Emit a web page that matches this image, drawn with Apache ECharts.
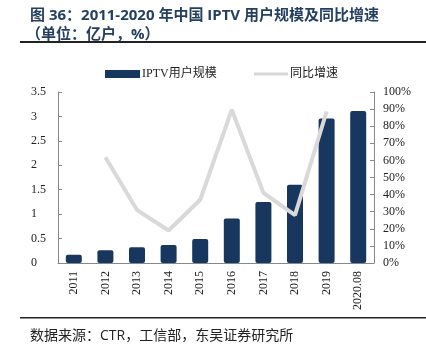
<!DOCTYPE html>
<html>
<head>
<meta charset="utf-8">
<script src="https://cdn.jsdelivr.net/npm/echarts@6/dist/echarts.min.js"></script>
<style>html,body{margin:0;padding:0;background:#fff;}#c{width:426px;height:356px;}</style>
</head>
<body>
<div id="c"></div>
<script>
var categories = ['2011','2012','2013','2014','2015','2016','2017','2018','2019','2020.08'];
var users = [0.17,0.26,0.32,0.37,0.49,0.91,1.25,1.60,2.96,3.11];
var growth = [null,61.8,31,19,37,89.6,41,28,88.6,null];
var leftTicks = {min:0, max:3.5, interval:0.5};
var rightTicks = {min:0, max:100, interval:10};

var serif = '"Liberation Serif","Times New Roman","Noto Sans CJK SC",serif';
var sans = '"Open Sans","Noto Sans CJK SC",sans-serif';
var chart = echarts.init(document.getElementById('c'), null, {renderer:'canvas'});
chart.setOption({
  animation:false,
  backgroundColor:'#fff',
  title:[
    {text:'图 36：2011-2020 年中国 IPTV 用户规模及同比增速', left:25, top:3,
     textStyle:{fontSize:15, fontWeight:'bold', color:'#243F60', fontFamily:sans}},
    {text:'（单位：亿户，%）', left:21, top:22,
     textStyle:{fontSize:15, fontWeight:'bold', color:'#243F60', fontFamily:sans}},
    {text:'数据来源：CTR，工信部，东吴证券研究所', left:25, top:324,
     textStyle:{fontSize:14, fontWeight:'normal', color:'#222', fontFamily:sans}}
  ],
  graphic:[
    {type:'rect', shape:{x:20,y:41,width:406,height:2}, style:{fill:'#222'}},
    {type:'rect', shape:{x:20,y:317,width:406,height:1.5}, style:{fill:'#222'}}
  ],
  legend:[
    {top:63, left:100, itemWidth:35, itemHeight:8,
     textStyle:{fontFamily:serif, fontSize:12, color:'#222', padding:[0,0,0,-3]},
     data:[{name:'IPTV用户规模', icon:'rect'}]},
    {top:63, left:249, itemWidth:34, itemHeight:3,
     textStyle:{fontFamily:serif, fontSize:12, color:'#222', padding:[0,0,0,-3]},
     data:[{name:'同比增速', icon:'rect'}]}
  ],
  grid:{left:58, right:52, top:92, bottom:93},
  xAxis:{
    type:'category', data:categories,
    axisLine:{lineStyle:{color:'#888'}},
    axisTick:{inside:true, length:4, lineStyle:{color:'#888'}},
    axisLabel:{rotate:90, margin:8, fontFamily:serif, fontSize:12, color:'#222'}
  },
  yAxis:[
    {type:'value', min:leftTicks.min, max:leftTicks.max, interval:leftTicks.interval,
     axisLine:{show:true, lineStyle:{color:'#888'}},
     axisTick:{show:true, inside:true, length:4, lineStyle:{color:'#888'}},
     splitLine:{show:false},
     axisLabel:{margin:12, fontFamily:serif, fontSize:12, color:'#222',
       formatter:function(v){return (v % 1 === 0) ? (v + '   ') : String(v);}}},
    {type:'value', min:rightTicks.min, max:rightTicks.max, interval:rightTicks.interval,
     axisLine:{show:true, lineStyle:{color:'#888'}},
     axisTick:{show:true, inside:true, length:4, lineStyle:{color:'#888'}},
     splitLine:{show:false},
     axisLabel:{margin:9, fontFamily:serif, fontSize:12, color:'#222', formatter:'{value}%'}}
  ],
  series:[
    {name:'IPTV用户规模', type:'bar', data:users, barWidth:16, yAxisIndex:0,
     itemStyle:{color:'#17375E', borderRadius:2}},
    {name:'同比增速', type:'line', data:growth, yAxisIndex:1, symbol:'none',
     lineStyle:{color:'#D9D9D9', width:4}, itemStyle:{color:'#D9D9D9'}}
  ]
});
</script>
</body>
</html>
